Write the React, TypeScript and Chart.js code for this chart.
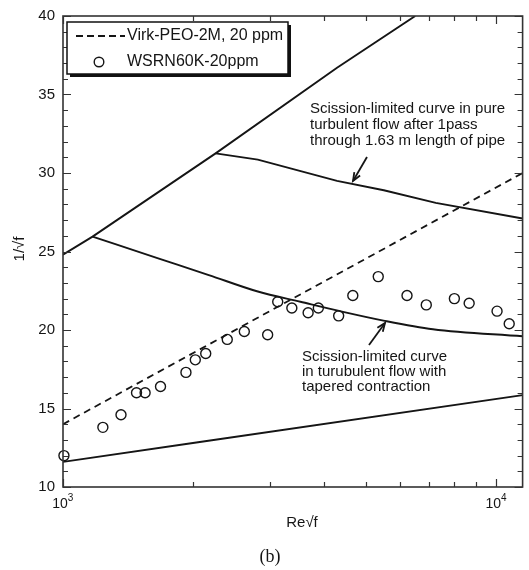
import React, { useEffect, useRef } from 'react';
import { Chart, registerables } from 'chart.js';

Chart.register(...registerables);

// ---- data ----
const virkX = [1000, 3000, 11500];
const virkY = [14.0, 21.2, 30.0];

const wsrnX = [1005, 1236, 1361, 1478, 1547, 1679, 1922, 2020, 2135, 2394, 2621, 2967, 3130, 3374, 3679, 3884, 4327, 4665, 5340, 6222, 6893, 8003, 8657, 10040, 10710];
const wsrnY = [12.0, 13.8, 14.6, 16.0, 16.0, 16.4, 17.3, 18.1, 18.5, 19.4, 19.9, 19.7, 21.8, 21.4, 21.1, 21.4, 20.9, 22.2, 23.4, 22.2, 21.6, 22.0, 21.7, 21.2, 20.4];

const mdrX = [1000, 1170, 2250, 4290, 6500];
const mdrY = [24.8, 25.95, 31.25, 36.7, 40];

const pkX = [1000, 2050, 11500];
const pkY = [11.6, 12.85, 15.85];

const pureX = [2250, 2816, 4290, 5500, 7250, 11500];
const pureY = [31.25, 30.85, 29.5, 28.9, 28.1, 27.1];

const taperX = [1170, 1665, 2170, 2816, 3530, 4360, 5490, 7140, 11500];
const taperY = [25.95, 24.55, 23.5, 22.45, 21.8, 21.2, 20.6, 20.05, 19.6];

const xMin = 1000;
const xMax = 11500;
const yMin = 10;
const yMax = 40;

const xMajorTicks = [1000, 10000];
const xMajorExp = ['3', '4'];
const xMinorTicks = [2000, 3000, 4000, 5000, 6000, 7000, 8000, 9000];
const yMajorTicks = [10, 15, 20, 25, 30, 35, 40];
const yMinorTicks = [11, 12, 13, 14, 16, 17, 18, 19, 21, 22, 23, 24, 26, 27, 28, 29, 31, 32, 33, 34, 36, 37, 38, 39];

const legendLabels = ['Virk-PEO-2M, 20 ppm', 'WSRN60K-20ppm'];
const note1 = ['Scission-limited curve in pure', 'turbulent flow after 1pass', 'through 1.63 m length of pipe'];
const note2 = ['Scission-limited curve', 'in turubulent flow with', 'tapered contraction'];
const xTitle = 'Re\u221Af';
const yTitle = '1/\u221Af';
const caption = '(b)';

const zip = (xs: number[], ys: number[]) => xs.map((x, i) => ({ x, y: ys[i] }));

const SANS = '"Liberation Sans", Arial, Helvetica, sans-serif';
const INK = '#151515';

const decor = {
  id: 'decor',
  afterDraw(chart: any) {
    const ctx = chart.ctx as CanvasRenderingContext2D;
    const xs = chart.scales.x;
    const ys = chart.scales.y;
    const { left, right, top, bottom } = chart.chartArea;
    ctx.save();

    // frame
    ctx.strokeStyle = '#333';
    ctx.lineWidth = 1.6;
    ctx.strokeRect(left, top, right - left, bottom - top);

    // ticks (inward, all four sides)
    ctx.lineWidth = 1.2;
    ctx.beginPath();
    const xt = (v: number, len: number) => {
      const px = Math.round(xs.getPixelForValue(v)) + 0.5;
      ctx.moveTo(px, bottom); ctx.lineTo(px, bottom - len);
      ctx.moveTo(px, top); ctx.lineTo(px, top + len);
    };
    const yt = (v: number, len: number) => {
      const py = Math.round(ys.getPixelForValue(v)) + 0.5;
      ctx.moveTo(left, py); ctx.lineTo(left + len, py);
      ctx.moveTo(right, py); ctx.lineTo(right - len, py);
    };
    xMajorTicks.forEach((v) => xt(v, 8));
    xMinorTicks.forEach((v) => xt(v, 5));
    yMajorTicks.forEach((v) => yt(v, 8));
    yMinorTicks.forEach((v) => yt(v, 5));
    ctx.stroke();

    // tick labels
    ctx.fillStyle = INK;
    ctx.font = `15px ${SANS}`;
    ctx.textAlign = 'right';
    ctx.textBaseline = 'middle';
    yMajorTicks.forEach((v) => ctx.fillText(String(v), left - 8, ys.getPixelForValue(v)));

    xMajorTicks.forEach((v, i) => {
      const px = xs.getPixelForValue(v);
      ctx.font = `14px ${SANS}`;
      const w = ctx.measureText('10').width;
      ctx.textAlign = 'left';
      ctx.textBaseline = 'middle';
      ctx.fillText('10', px - w / 2 - 3, bottom + 17);
      ctx.font = `10px ${SANS}`;
      ctx.fillText(xMajorExp[i], px + w / 2 - 3, bottom + 11);
    });

    // axis titles
    ctx.font = `15px ${SANS}`;
    ctx.textAlign = 'center';
    ctx.textBaseline = 'middle';
    ctx.fillText(xTitle, 302, 523);
    ctx.save();
    ctx.translate(20, 249);
    ctx.rotate(-Math.PI / 2);
    ctx.fillText(yTitle, 0, 0);
    ctx.restore();

    // caption
    ctx.font = `18px "Liberation Serif", "DejaVu Serif", serif`;
    ctx.fillText(caption, 270, 557);

    // legend box with shadow
    const bx = 67, by = 22, bw = 221, bh = 52;
    ctx.fillStyle = '#111';
    ctx.fillRect(bx + 3, by + 3, bw, bh);
    ctx.fillStyle = '#fff';
    ctx.fillRect(bx, by, bw, bh);
    ctx.strokeStyle = '#111';
    ctx.lineWidth = 1.5;
    ctx.strokeRect(bx, by, bw, bh);

    ctx.strokeStyle = INK;
    ctx.lineWidth = 1.8;
    ctx.setLineDash([7, 4]);
    ctx.beginPath();
    ctx.moveTo(76, 36); ctx.lineTo(125, 36);
    ctx.stroke();
    ctx.setLineDash([]);
    ctx.lineWidth = 1.4;
    ctx.beginPath();
    ctx.arc(99, 62, 4.8, 0, Math.PI * 2);
    ctx.stroke();

    ctx.fillStyle = INK;
    ctx.font = `16px ${SANS}`;
    ctx.textAlign = 'left';
    ctx.textBaseline = 'middle';
    ctx.fillText(legendLabels[0], 127, 36);
    ctx.fillText(legendLabels[1], 127, 62);

    // annotations
    ctx.font = `15px ${SANS}`;
    note1.forEach((s, i) => ctx.fillText(s, 310, 109 + i * 16));
    note2.forEach((s, i) => ctx.fillText(s, 302, 357 + i * 15));

    const arrow = (x0: number, y0: number, x1: number, y1: number) => {
      ctx.strokeStyle = INK;
      ctx.lineWidth = 1.8;
      ctx.beginPath();
      ctx.moveTo(x0, y0); ctx.lineTo(x1, y1);
      ctx.stroke();
      const a = Math.atan2(y1 - y0, x1 - x0);
      const L = 9, s = 0.38;
      ctx.beginPath();
      ctx.moveTo(x1 - L * Math.cos(a - s), y1 - L * Math.sin(a - s));
      ctx.lineTo(x1, y1);
      ctx.lineTo(x1 - L * Math.cos(a + s), y1 - L * Math.sin(a + s));
      ctx.stroke();
    };
    arrow(367, 157, 353, 181);
    arrow(369, 345, 385, 323);

    ctx.restore();
  },
};

export default function App() {
  const ref = useRef<HTMLCanvasElement | null>(null);

  useEffect(() => {
    if (!ref.current) return;
    const lineDs = (label: string, xs: number[], ys: number[], extra: any = {}) => ({
      label,
      data: zip(xs, ys),
      showLine: true,
      borderColor: INK,
      borderWidth: 1.9,
      pointRadius: 0,
      fill: false,
      tension: 0,
      ...extra,
    });
    const chart = new Chart(ref.current, {
      type: 'scatter',
      data: {
        datasets: [
          lineDs('MDR', mdrX, mdrY),
          lineDs('PK', pkX, pkY),
          lineDs('pure', pureX, pureY),
          lineDs('taper', taperX, taperY, { cubicInterpolationMode: 'monotone', tension: 0.4 }),
          lineDs(legendLabels[0], virkX, virkY, { borderDash: [7, 5], borderWidth: 1.8 }),
          {
            label: legendLabels[1],
            data: zip(wsrnX, wsrnY),
            showLine: false,
            pointStyle: 'circle',
            pointRadius: 5,
            pointBorderWidth: 1.4,
            borderColor: INK,
            backgroundColor: 'rgba(0,0,0,0)',
            clip: false,
          },
        ],
      },
      options: {
        responsive: false,
        animation: false,
        devicePixelRatio: 1,
        layout: { padding: { left: 63, right: 1, top: 16, bottom: 83 } },
        scales: {
          x: { type: 'logarithmic', min: xMin, max: xMax, display: false },
          y: { type: 'linear', min: yMin, max: yMax, display: false },
        },
        plugins: { legend: { display: false }, tooltip: { enabled: false } },
      },
      plugins: [decor],
    } as any);
    return () => chart.destroy();
  }, []);

  return (
    <canvas
      ref={ref}
      width={529}
      height={570}
      style={{ position: 'absolute', left: 0, top: 0, width: 529, height: 570, display: 'block', background: '#fff' }}
    />
  );
}
